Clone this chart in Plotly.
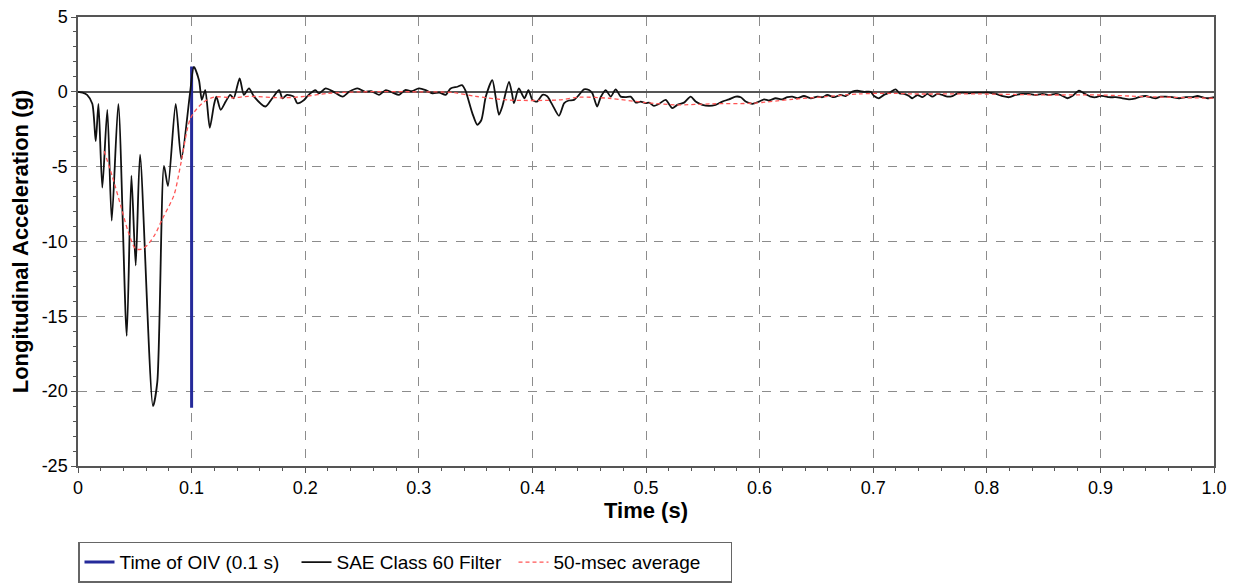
import plotly.graph_objects as go

# ---------------- data ----------------
TIME_S = [0.000, 0.004, 0.008, 0.0126, 0.0156, 0.018, 0.0214, 0.0258, 0.0297, 0.0355,
          0.0429, 0.047, 0.0508, 0.0546, 0.066, 0.0698, 0.0757, 0.0792, 0.086, 0.091,
          0.0986, 0.102, 0.1065, 0.109, 0.112, 0.116, 0.1197, 0.1218, 0.1256, 0.130,
          0.134, 0.137, 0.1423, 0.146, 0.1505, 0.155, 0.165, 0.171, 0.177, 0.180,
          0.184, 0.190, 0.193, 0.199, 0.203, 0.209, 0.212, 0.218, 0.225, 0.233,
          0.2386, 0.246, 0.253, 0.258, 0.265, 0.271, 0.277, 0.2826, 0.288, 0.294,
          0.300, 0.306, 0.312, 0.318, 0.3237, 0.328, 0.334, 0.338, 0.341, 0.3471,
          0.3515, 0.355, 0.359, 0.3647, 0.3676, 0.3706, 0.3735, 0.3794, 0.382, 0.3838,
          0.388, 0.393, 0.3965, 0.400, 0.404, 0.409, 0.413, 0.4176, 0.4234, 0.428,
          0.432, 0.4366, 0.441, 0.4454, 0.4498, 0.4528, 0.457, 0.4601, 0.4645, 0.469,
          0.4733, 0.4777, 0.482, 0.4865, 0.491, 0.4953, 0.4997, 0.5027, 0.507, 0.5115,
          0.5173, 0.5232, 0.5276, 0.5335, 0.5393, 0.5437, 0.5496, 0.5555, 0.5613, 0.5672,
          0.5731, 0.579, 0.5834, 0.5877, 0.5936, 0.5995, 0.604, 0.6083, 0.6141, 0.620,
          0.6244, 0.6288, 0.6333, 0.639, 0.645, 0.6508, 0.6552, 0.6596, 0.6655, 0.6714,
          0.6758, 0.6816, 0.686, 0.692, 0.6978, 0.7008, 0.7051, 0.7095, 0.714, 0.7198,
          0.7233, 0.7271, 0.7315, 0.7345, 0.7389, 0.7433, 0.7477, 0.7521, 0.7565, 0.7609,
          0.7653, 0.7697, 0.7741, 0.7785, 0.7843, 0.7902, 0.7961, 0.802, 0.8078, 0.8137,
          0.8196, 0.8254, 0.8313, 0.8371, 0.843, 0.8489, 0.8548, 0.8607, 0.865, 0.8709,
          0.8753, 0.8812, 0.8856, 0.8915, 0.8959, 0.8988, 0.9032, 0.9076, 0.9135, 0.9194,
          0.9252, 0.9311, 0.9355, 0.9399, 0.9443, 0.9487, 0.9531, 0.9575, 0.9633, 0.9692,
          0.9751, 0.981, 0.9854, 0.9898, 0.9942, 1.000]
SAE_CLASS_60 = [0.0, -0.05, -0.2, -0.8, -3.3, -0.8, -6.4, -1.2, -8.6, -0.8,
                -16.3, -5.6, -11.6, -4.2, -21.0, -19.4, -4.95, -6.3, -0.8, -4.5,
                -0.1, 1.67, 0.78, -0.54, 0.12, -2.4, -0.87, -0.32, -1.2, -0.65,
                -0.2, -0.43, 0.9, -0.2, 0.23, -0.32, -0.98, -0.43, 0.12, -0.43,
                -0.2, -0.32, -0.76, -0.54, -0.2, 0.12, -0.1, 0.23, 0.0, -0.32,
                0.0, 0.23, 0.0, 0.05, -0.2, 0.12, -0.05, -0.2, 0.12, 0.05,
                0.23, 0.12, -0.1, -0.05, -0.2, 0.23, 0.34, 0.45, 0.1, -1.42,
                -2.2, -1.9, -0.32, 0.78, -0.32, -1.53, -0.98, 0.67, -0.1, -0.76,
                0.23, -0.43, 0.12, -0.54, -0.65, -0.2, -0.3, -0.87, -1.6, -0.76,
                -0.58, -0.54, -0.21, 0.17, 0.12, -0.1, -0.98, -0.36, 0.12, -0.32,
                0.17, -0.32, -0.36, -0.32, -0.72, -0.65, -0.76, -0.72, -0.94, -0.8,
                -0.54, -1.09, -0.87, -0.72, -0.32, -0.65, -0.87, -0.94, -0.87, -0.65,
                -0.5, -0.32, -0.36, -0.65, -0.8, -0.65, -0.5, -0.58, -0.43, -0.5,
                -0.36, -0.32, -0.43, -0.28, -0.43, -0.32, -0.36, -0.21, -0.36, -0.21,
                -0.28, 0.01, 0.08, 0.0, 0.0, -0.28, -0.43, -0.2, -0.08, 0.17,
                -0.1, -0.14, -0.28, -0.43, -0.21, -0.36, -0.14, -0.32, -0.14, -0.21,
                -0.32, -0.28, -0.1, -0.05, -0.1, -0.05, -0.05, -0.05, -0.14, -0.28,
                -0.36, -0.21, -0.14, -0.14, -0.21, -0.14, -0.21, -0.14, -0.21, -0.43,
                -0.28, 0.08, -0.1, -0.32, -0.36, -0.28, -0.28, -0.36, -0.36, -0.43,
                -0.5, -0.43, -0.32, -0.28, -0.36, -0.43, -0.32, -0.32, -0.36, -0.43,
                -0.36, -0.36, -0.28, -0.36, -0.43, -0.36]

AVG_TIME_S = [0.023, 0.030, 0.0376, 0.044, 0.0508, 0.056, 0.061, 0.068, 0.0742, 0.0845,
              0.0904, 0.0992, 0.1094, 0.1197, 0.137, 0.150, 0.180, 0.200, 0.220, 0.250,
              0.300, 0.330, 0.350, 0.380, 0.4234, 0.441, 0.4674, 0.4997, 0.5262, 0.5584,
              0.5936, 0.6288, 0.6582, 0.6875, 0.717, 0.7345, 0.7932, 0.8518, 0.8988, 0.940,
              1.000]
AVG_50MS = [-3.96, -5.6, -7.6, -9.3, -10.5, -10.5, -10.25, -9.5, -8.5, -6.9,
            -4.85, -1.75, -0.76, -0.35, -0.4, -0.3, -0.4, -0.3, -0.1, 0.0,
            0.0, -0.05, -0.3, -0.55, -0.54, -0.36, -0.43, -0.72, -0.87, -0.8,
            -0.76, -0.5, -0.32, -0.14, -0.1, -0.14, -0.14, -0.21, -0.21, -0.32,
            -0.43]

OIV_TIME = [0.1, 0.1]
OIV_RANGE = [-21.1, 1.7]

X_TICKS = [0.0, 0.1, 0.2, 0.3, 0.4, 0.5, 0.6, 0.7, 0.8, 0.9, 1.0]
X_TICK_TEXT = ["0", "0.1", "0.2", "0.3", "0.4", "0.5", "0.6", "0.7", "0.8", "0.9", "1.0"]
Y_TICKS = [5, 0, -5, -10, -15, -20, -25]
Y_TICK_TEXT = ["5", "0", "-5", "-10", "-15", "-20", "-25"]

FONT = "Arial, 'Liberation Sans', sans-serif"

fig = go.Figure()
fig.add_trace(go.Scatter(x=OIV_TIME, y=OIV_RANGE, mode="lines", name="Time of OIV (0.1 s)",
                         line=dict(color="#252a9a", width=3)))
fig.add_trace(go.Scatter(x=TIME_S, y=SAE_CLASS_60, mode="lines", name="SAE Class 60 Filter",
                         line=dict(color="#111111", width=1.8, shape="spline", smoothing=0.7)))
fig.add_trace(go.Scatter(x=AVG_TIME_S, y=AVG_50MS, mode="lines", name="50-msec average",
                         line=dict(color="#ff5555", width=1.3, dash="4px,3px", shape="spline", smoothing=0.8)))

axis_common = dict(
    showline=True, linecolor="#555555", linewidth=1.5, mirror=True,
    showgrid=True, gridcolor="#8c8c8c", gridwidth=1, griddash="dash",
    ticks="outside", ticklen=5, tickcolor="#555555", tickwidth=1,
    tickfont=dict(family=FONT, size=18, color="#000000"),
    ticklabeloverflow="allow",
    automargin=False,
)

fig.update_xaxes(
    range=[0, 1.0], tickmode="array", tickvals=X_TICKS, ticktext=X_TICK_TEXT,
    zeroline=False,
    minor=dict(dtick=0.02, ticks="outside", ticklen=3, tickcolor="#555555", showgrid=False),
    title=dict(text="<b>Time (s)</b>", font=dict(family=FONT, size=22, color="#000000"), standoff=4),
    **axis_common,
)
fig.update_yaxes(
    range=[-25, 5], tickmode="array", tickvals=Y_TICKS, ticktext=Y_TICK_TEXT,
    zeroline=True, zerolinecolor="#555555", zerolinewidth=2,
    minor=dict(dtick=1, ticks="outside", ticklen=3, tickcolor="#555555", showgrid=False),
    title=dict(text="<b>Longitudinal Acceleration (g)</b>", font=dict(family=FONT, size=22, color="#000000"), standoff=12),
    **axis_common,
)

# page body has an 8px default margin, so the figure is 8px smaller than the window
fig.update_layout(
    width=1231, height=577,
    margin=dict(l=70, r=25, t=9, b=119),
    plot_bgcolor="white", paper_bgcolor="white",
    font=dict(family=FONT, color="#000000"),
    showlegend=True,
    legend=dict(orientation="h", x=0, xanchor="left", xref="paper",
                y=0.075, yanchor="top", yref="container",
                bordercolor="#666666", borderwidth=1.5, bgcolor="white",
                entrywidth=172, entrywidthmode="pixels",
                font=dict(family=FONT, size=19, color="#000000")),
)

fig.write_html("out.html")
